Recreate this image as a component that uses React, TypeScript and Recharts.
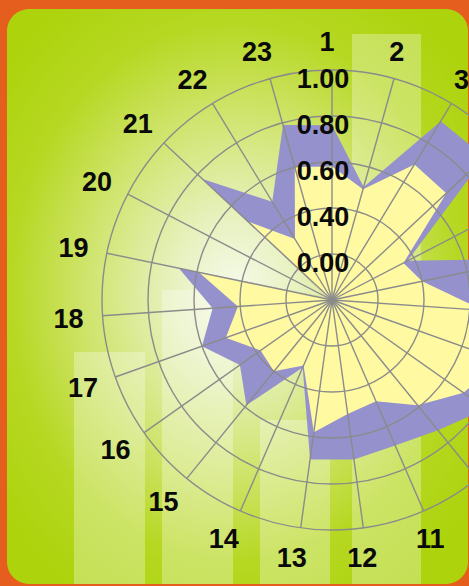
import React from 'react';
import { RadarChart, Radar, PolarGrid, PolarAngleAxis, PolarRadiusAxis } from 'recharts';

const categories = ['1', '2', '3', '4', '5', '6', '7', '8', '9', '10', '11', '12', '13', '14', '15', '16', '17', '18', '19', '20', '21', '22', '23'];
const purpleValues = [0.76, 0.51, 0.91, 0.91, 0.37, 0.88, 0.68, 0.82, 0.82, 0.73, 0.69, 0.70, 0.70, 0.32, 0.59, 0.49, 0.60, 0.52, 0.68, 0.02, 0.77, 0.50, 0.79];
const yellowValues = [0.58, 0.50, 0.69, 0.68, 0.35, 0.40, 0.66, 0.78, 0.70, 0.59, 0.48, 0.50, 0.58, 0.31, 0.40, 0.38, 0.49, 0.41, 0.59, 0.02, 0.50, 0.31, 0.60];
const radiusDomain = [0, 1];
const radiusTickLabels = ['', '0.00', '0.40', '0.60', '0.80', '1.00'];

const data = categories.map((name, i) => ({ name, purple: purpleValues[i], yellow: yellowValues[i] }));

const W = 469;
const H = 586;
const CX = 332;
const CY = 300;
const R = 230;
const LABEL_R = 259;
const FONT = '"Liberation Sans", Arial, Helvetica, sans-serif';

const AngleTick = (props: any) => {
  const { x, y, payload } = props;
  const dx = x - CX;
  const dy = y - CY;
  const len = Math.sqrt(dx * dx + dy * dy) || 1;
  const tx = CX + (dx / len) * LABEL_R - 5;
  const ty = CY + (dy / len) * LABEL_R + 1;
  return (
    <text x={tx} y={ty} textAnchor="middle" dominantBaseline="central" fontFamily={FONT} fontWeight="bold" fontSize={27} fill="#0a0a0a">
      {payload.value}
    </text>
  );
};

const RadiusTick = (props: any) => {
  const { x, y, index } = props;
  const label = radiusTickLabels[index];
  if (!label) return null;
  return (
    <text x={x - 9} y={y + 9} textAnchor="middle" dominantBaseline="central" fontFamily={FONT} fontWeight="bold" fontSize={27} fill="#0a0a0a">
      {label}
    </text>
  );
};

const bars = [
  { left: 74, width: 71, top: 352 },
  { left: 162, width: 71, top: 290 },
  { left: 260, width: 70, top: 420 },
  { left: 352, width: 69, top: 34 },
];

export default function App() {
  const common = {
    width: W,
    height: H,
    data,
    cx: CX,
    cy: CY,
    outerRadius: R,
    startAngle: 90,
    endAngle: -270,
    margin: { top: 0, right: 0, bottom: 0, left: 0 },
  };
  return (
    <div style={{ position: 'absolute', left: 0, top: 0, width: W, height: H, background: '#e65e1e', overflow: 'hidden' }}>
      <div
        style={{
          position: 'absolute',
          left: 7,
          top: 9,
          width: 461,
          height: 575,
          borderRadius: 22,
          overflow: 'hidden',
          background:
            'radial-gradient(ellipse 300px 360px at 228px 283px, #f7faec 0%, #e6f1bc 22%, #cfe46c 50%, #b6d822 75%, #acd30b 100%)',
        }}
      >
        {bars.map((b, i) => (
          <div
            key={i}
            style={{
              position: 'absolute',
              left: b.left - 7,
              top: b.top - 9,
              width: b.width,
              height: H,
              background: 'rgba(255,255,255,0.3)',
            }}
          />
        ))}
      </div>
      <div style={{ position: 'absolute', left: 0, top: 0 }}>
        <RadarChart {...common}>
          <PolarAngleAxis dataKey="name" tick={false} axisLine={false} tickLine={false} />
          <PolarRadiusAxis type="number" domain={radiusDomain} allowDecimals={true} tickCount={6} tick={false} axisLine={false} />
          <Radar dataKey="purple" fill="#9491cd" fillOpacity={1} stroke="none" isAnimationActive={false} />
          <Radar dataKey="yellow" fill="#fffaa2" fillOpacity={1} stroke="none" isAnimationActive={false} />
        </RadarChart>
      </div>
      <div style={{ position: 'absolute', left: 0, top: 0 }}>
        <RadarChart {...common}>
          <PolarGrid gridType="circle" stroke="#8b8b8b" strokeWidth={1.4} />
          <PolarAngleAxis dataKey="name" tick={<AngleTick />} axisLine={false} tickLine={false} />
          <PolarRadiusAxis
            type="number"
            angle={90}
            domain={radiusDomain}
            allowDecimals={true}
            tickCount={6}
            tick={<RadiusTick />}
            axisLine={false}
            tickLine={false}
          />
          <Radar dataKey="yellow" fill="none" fillOpacity={0} stroke="none" isAnimationActive={false} />
        </RadarChart>
      </div>
    </div>
  );
}
